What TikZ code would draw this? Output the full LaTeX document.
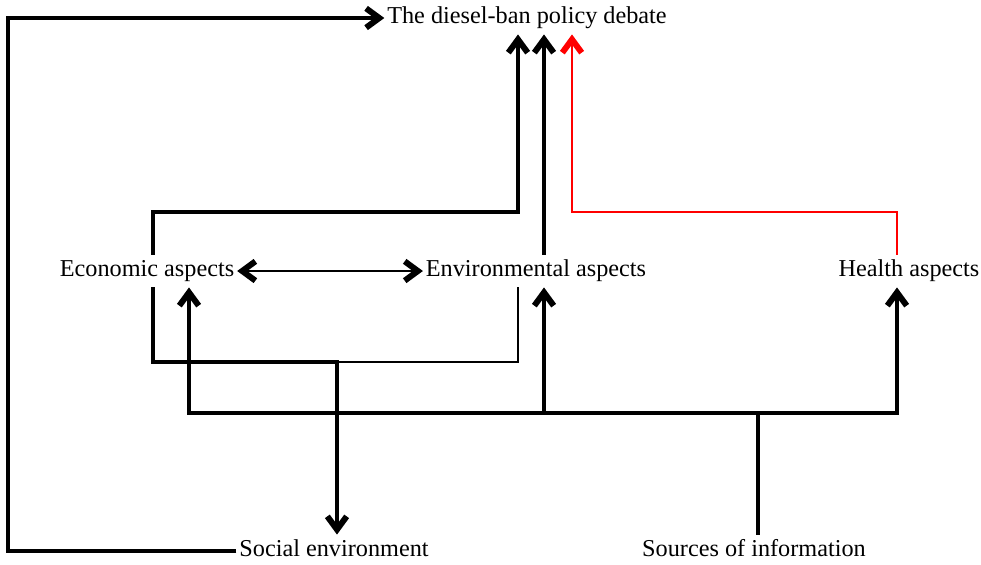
\documentclass[tikz,border=0pt]{standalone}
\usepackage{fontspec}
\setmainfont{Liberation Serif}
\usetikzlibrary{arrows.meta}
\tikzset{
  lbl/.style={inner xsep=1.5pt, inner ysep=2.5pt, text height=10pt, text depth=3.3pt,
    font=\fontsize{13.8}{16}\selectfont},
  thk/.style={line width=2.3pt},
  thn/.style={line width=0.8pt},
  chev/.tip={Straight Barb[length=7.5pt,width=11pt,line width=3.4pt 0]},
}
\begin{document}
\begin{tikzpicture}[baseline]
    \def\x{.02}
    \def\y{-.02}
    \useasboundingbox (0,0) rectangle (981*\x, 564*\y);
    \node[lbl] (A0_1) at (527*\x, 18*\y) {The diesel-ban policy debate};
    \node[lbl] (A1_0) at (147*\x, 271*\y) {Economic aspects};
    \node[lbl] (A1_1) at (536*\x, 271*\y) {Environmental aspects};
    \node[lbl] (A1_2) at (909*\x, 271*\y) {Health aspects};
    \node[lbl] (A2_0) at (334*\x, 551*\y) {Social environment};
    \node[lbl] (A2_1) at (754*\x, 551*\y) {Sources of information};
    \coordinate (B0) at (8*\x, 290*\y);
    \coordinate (B1) at (153*\x, 212*\y);
    \coordinate (B2) at (518*\x, 212*\y);
    \coordinate (B3) at (544*\x, 212*\y);
    \coordinate (B4) at (572*\x, 212*\y);
    \coordinate (B5) at (897*\x, 212*\y);
    \coordinate (C0) at (337*\x, 362*\y);
    \coordinate (C1) at (189*\x, 413*\y);
    \coordinate (C2) at (758*\x, 413*\y);
    % into the debate
    \draw[thk,-chev] (A2_0.west) -| (B0) |- (A0_1.west);
    \draw[thk,-chev] (A1_0.north -| B1) |- (B2) -- (B2 |- A0_1.south);
    \draw[thk,-chev] (A1_1.north -| B3) -- (B3 |- A0_1.south);
    \draw[thn,red,-chev] (A1_2.north -| B5) |- (B4) -- (B4 |- A0_1.south);
    % middle row
    \draw[thn,chev-chev] (A1_0) -- (A1_1);
    \draw[thk,-chev] (A1_0.south -| B1) |- (C0) -- (C0 |- A2_0.north);
    \draw[thn] (A1_1.south -| B2) |- (C0);
    % sources of information
    \draw[thk,-chev] (A2_1.north -| C2) |- (C1) -- (C1 |- A1_0.south);
    \draw[thk,-chev] (C2) -| (A1_2.south -| B5);
    \draw[thk,-chev] (B3 |- C2) -- (A1_1.south -| B3);
\end{tikzpicture}
\end{document}
